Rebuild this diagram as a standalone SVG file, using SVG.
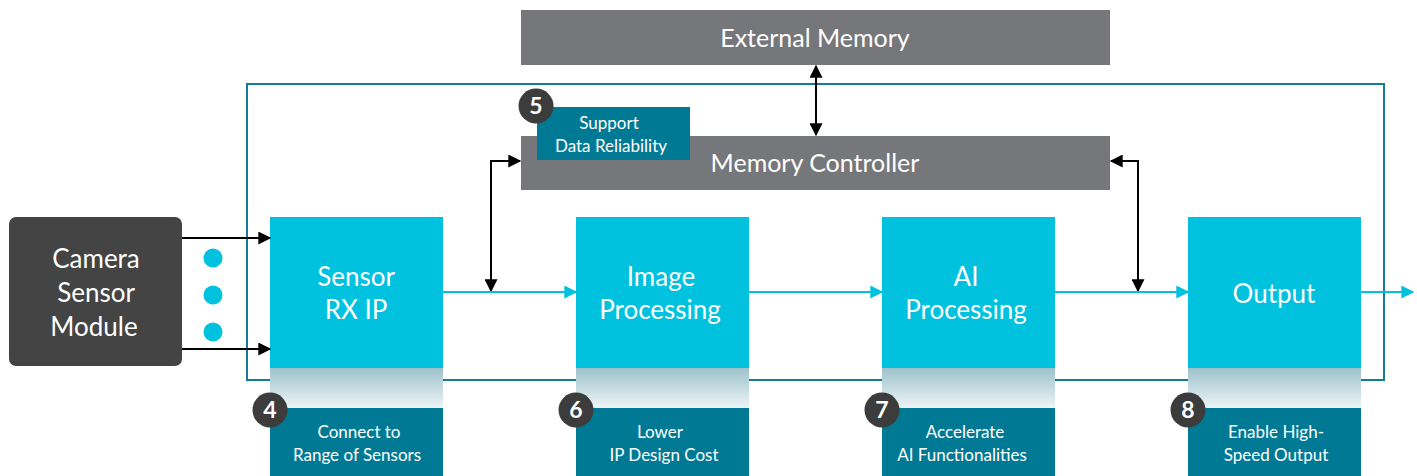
<svg xmlns="http://www.w3.org/2000/svg" width="1417" height="476" viewBox="0 0 1417 476">
<defs>
<linearGradient id="fade" x1="0" y1="0" x2="0" y2="1">
<stop offset="0" stop-color="#9dc2cc"/>
<stop offset="1" stop-color="#eef4f6"/>
</linearGradient>
<marker id="ab" viewBox="0 0 10 10" refX="9" refY="5" markerWidth="7" markerHeight="6.5" orient="auto-start-reverse" markerUnits="strokeWidth"><path d="M0,0 L10,5 L0,10 z" fill="#000"/></marker>
<marker id="ac" viewBox="0 0 10 10" refX="9" refY="5" markerWidth="7" markerHeight="6.5" orient="auto" markerUnits="strokeWidth"><path d="M0,0 L10,5 L0,10 z" fill="#00c2df"/></marker>
</defs>
<style>
text{font-family:Lato,"Open Sans",sans-serif;fill:#fff;text-anchor:middle}
.gray{fill:#76777a}
.cyan{fill:#00c2df}
.teal{fill:#007a94}
.num{fill:#3c3c3c}
.big{font-size:26px}
.mid{font-size:25px}
.sm{font-size:17px}
.numt{font-size:23px;font-weight:bold}
.blk{stroke:#000;stroke-width:2;fill:none}
.cl{stroke:#00c2df;stroke-width:2;fill:none}
</style>
<rect width="1417" height="476" fill="#fff"/>
<rect id="frame" x="247" y="84" width="1137" height="296" fill="none" stroke="#137d98" stroke-width="2"/>
<g id="external-memory"><rect class="gray" x="521" y="10" width="589" height="55"/><text class="mid" x="815" y="47">External Memory</text></g>
<g id="memory-controller"><rect class="gray" x="521" y="136" width="589" height="54"/><text class="mid" x="815" y="172">Memory Controller</text></g>
<g id="camera"><rect x="9" y="217" width="173" height="149" rx="7" fill="#444"/><text class="big" x="96" y="268">Camera</text><text class="big" x="96" y="302">Sensor</text><text class="big" x="94" y="336">Module</text></g>
<g id="dots"><circle class="cyan" cx="213" cy="258" r="9.5"/><circle class="cyan" cx="213" cy="295" r="9.5"/><circle class="cyan" cx="213" cy="332" r="9.5"/></g>
<g id="sensor-rx"><rect class="cyan" x="270" y="217" width="173" height="151"/><rect x="270" y="368" width="173" height="40" fill="url(#fade)"/><text class="big" x="356" y="286">Sensor</text><text class="big" x="356" y="319">RX IP</text></g>
<g id="image-processing"><rect class="cyan" x="576" y="217" width="173" height="151"/><rect x="576" y="368" width="173" height="40" fill="url(#fade)"/><text class="big" x="661" y="286">Image</text><text class="big" x="660" y="319">Processing</text></g>
<g id="ai-processing"><rect class="cyan" x="882" y="217" width="173" height="151"/><rect x="882" y="368" width="173" height="40" fill="url(#fade)"/><text class="big" x="966" y="286">AI</text><text class="big" x="966" y="319">Processing</text></g>
<g id="output"><rect class="cyan" x="1188" y="217" width="173" height="151"/><rect x="1188" y="368" width="173" height="40" fill="url(#fade)"/><text class="big" x="1274" y="303">Output</text></g>
<g id="label-4"><rect class="teal" x="270" y="408" width="173" height="68"/><text class="sm" x="359" y="438">Connect to</text><text class="sm" x="357" y="461">Range of Sensors</text><circle class="num" cx="270" cy="410" r="17.5"/><text class="numt" x="270" y="418">4</text></g>
<g id="label-6"><rect class="teal" x="576" y="408" width="173" height="68"/><text class="sm" x="660" y="438">Lower</text><text class="sm" x="664" y="461">IP Design Cost</text><circle class="num" cx="576" cy="410" r="17.5"/><text class="numt" x="576" y="418">6</text></g>
<g id="label-7"><rect class="teal" x="882" y="408" width="173" height="68"/><text class="sm" x="965" y="438">Accelerate</text><text class="sm" x="962" y="461">AI Functionalities</text><circle class="num" cx="882" cy="410" r="17.5"/><text class="numt" x="882" y="418">7</text></g>
<g id="label-8"><rect class="teal" x="1188" y="408" width="173" height="68"/><text class="sm" x="1276" y="438">Enable High-</text><text class="sm" x="1276" y="461">Speed Output</text><circle class="num" cx="1188" cy="410" r="17.5"/><text class="numt" x="1188" y="418">8</text></g>
<g id="label-5"><rect class="teal" x="537" y="107" width="153" height="53"/><text class="sm" x="609" y="129">Support</text><text class="sm" x="611" y="152">Data Reliability</text><circle class="num" cx="536" cy="106" r="17.5"/><text class="numt" x="536" y="114">5</text></g>
<g id="connectors">
<line class="blk" x1="182" y1="238" x2="270" y2="238" marker-end="url(#ab)"/>
<line class="blk" x1="182" y1="349" x2="270" y2="349" marker-end="url(#ab)"/>
<line class="blk" x1="816" y1="66" x2="816" y2="135" marker-start="url(#ab)" marker-end="url(#ab)"/>
<polyline class="blk" points="491,291 491,161 520,161" marker-start="url(#ab)" marker-end="url(#ab)"/>
<polyline class="blk" points="1138,291 1138,161 1111,161" marker-start="url(#ab)" marker-end="url(#ab)"/>
<line class="cl" x1="443" y1="292" x2="576" y2="292" marker-end="url(#ac)"/>
<line class="cl" x1="749" y1="292" x2="882" y2="292" marker-end="url(#ac)"/>
<line class="cl" x1="1055" y1="292" x2="1188" y2="292" marker-end="url(#ac)"/>
<line class="cl" x1="1361" y1="292" x2="1413" y2="292" marker-end="url(#ac)"/>
</g>
</svg>
